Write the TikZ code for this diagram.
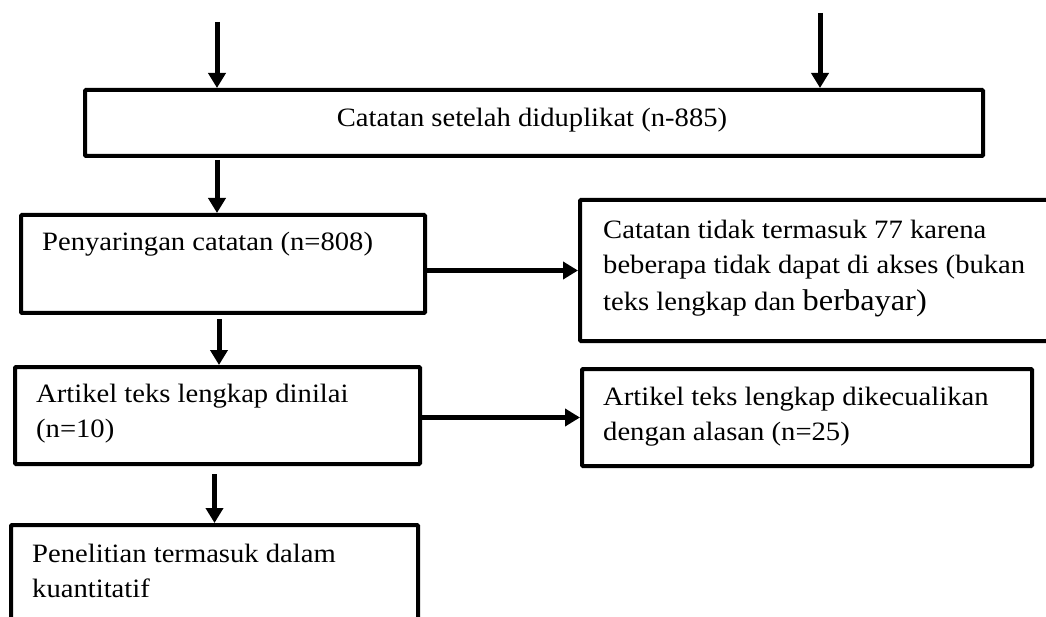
\documentclass[tikz,border=0pt]{standalone}
\usepackage{fontspec}
\setmainfont{Liberation Serif}[FakeStretch=1.08]
\usetikzlibrary{arrows.meta}
\begin{document}
\begin{tikzpicture}[x=1pt,y=-1pt,
  box/.style={draw, line width=4pt, rounded corners=1pt, inner sep=0pt, anchor=north west},
  txt/.style={anchor=base west, align=left, inner sep=0pt, font=\fontsize{26.5}{35}\selectfont},
  arr/.style={line width=5pt, -{Triangle[width=17pt,length=15pt]}}]
\useasboundingbox (0,0) rectangle (1046,617);
\clip (0,0) rectangle (1046,617);
% boxes
\node[box, minimum width=898pt, minimum height=66pt]  (b1) at (83,88) {};
\node[box, minimum width=404pt, minimum height=98pt]  (b2) at (19,213) {};
\node[box, minimum width=520pt, minimum height=141pt] (b3) at (578,198) {};
\node[box, minimum width=405pt, minimum height=97pt]  (b4) at (13,365) {};
\node[box, minimum width=450pt, minimum height=97pt]  (b5) at (580,367) {};
\node[box, minimum width=407pt, minimum height=120pt] (b6) at (9,523) {};
% texts (multi-line nodes: base is the last line's baseline)
\node[txt, anchor=base] (t1) at (532,127) {Catatan setelah diduplikat (n-885)};
\node[txt] (t2) at (42,251) {Penyaringan catatan (n=808)};
\node[txt] (t3) at (603,311) {Catatan tidak termasuk 77 karena\\beberapa tidak dapat di akses (bukan\\[2pt]teks lengkap dan {\fontsize{30}{35}\selectfont berbayar)}};
\node[txt] (t4) at (36,437) {Artikel teks lengkap dinilai\\(n=10)};
\node[txt] (t5) at (603,440) {Artikel teks lengkap dikecualikan\\dengan alasan (n=25)};
\node[txt] (t6) at (32,597) {Penelitian termasuk dalam\\kuantitatif};
% incoming arrows
\coordinate (s1) at (217,22);
\coordinate (s2) at (820,13);
\draw[arr] (s1) -- (s1 |- b1.north);
\draw[arr] (s2) -- (s2 |- b1.north);
% flow arrows
\draw[arr] ([yshift=-2pt]s1 |- b1.south) -- (s1 |- b2.north);
\draw[arr] (b2.east |- b3.west) -- (b3.west);
\draw[arr] ([xshift=-4pt,yshift=-4pt]b2.south) -- ([xshift=-4pt]b2.south |- b4.north);
\draw[arr] (b4.east |- b5.west) -- (b5.west);
\draw[arr] ([xshift=-3pt,yshift=-8pt]b4.south) -- ([xshift=-3pt]b4.south |- b6.north);
\end{tikzpicture}
\end{document}
